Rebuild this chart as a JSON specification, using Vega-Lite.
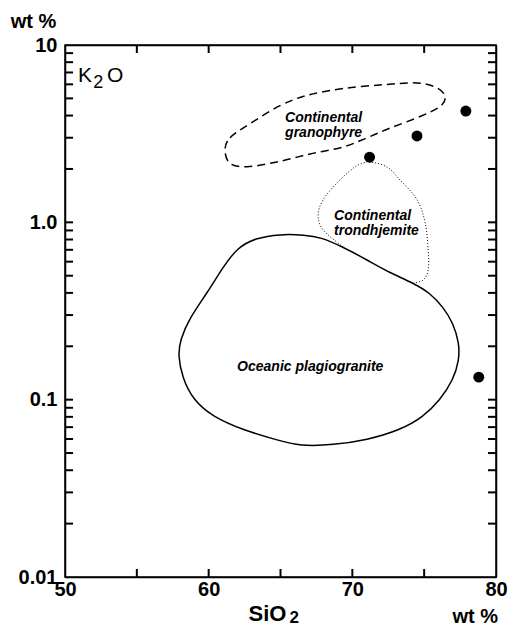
{
  "$schema": "https://vega.github.io/schema/vega-lite/v6.json",
  "width": 431,
  "height": 532,
  "autosize": {"type": "none"},
  "padding": {"left": 65, "top": 45, "right": 18, "bottom": 48},
  "background": "white",
  "config": {
    "view": {"stroke": "black", "strokeWidth": 1.5},
    "font": "Liberation Sans",
    "axis": {
      "grid": false,
      "domainColor": "black",
      "domainWidth": 1.5,
      "ticks": false,
      "tickSize": 0,
      "labelColor": "black",
      "labelFont": "Liberation Sans",
      "labelFontSize": 20,
      "labelFontWeight": "bold",
      "labelFlush": false,
      "labelOverlap": false,
      "labelBound": false,
      "titleColor": "black",
      "titleFont": "Liberation Sans",
      "titleFontSize": 20,
      "titleFontWeight": "bold"
    }
  },
  "datasets": {
    "pts": [
      {"sio2": 71.2, "k2o": 2.33},
      {"sio2": 74.5, "k2o": 3.07},
      {"sio2": 77.9, "k2o": 4.24},
      {"sio2": 78.8, "k2o": 0.134}
    ],
    "xticks": [
      {"v": 55}, {"v": 60}, {"v": 65}, {"v": 70}, {"v": 75}
    ],
    "yticks": [
      {"v": 0.02}, {"v": 0.03}, {"v": 0.04}, {"v": 0.05}, {"v": 0.06}, {"v": 0.07}, {"v": 0.08}, {"v": 0.09},
      {"v": 0.1}, {"v": 0.2}, {"v": 0.3}, {"v": 0.4}, {"v": 0.5}, {"v": 0.6}, {"v": 0.7}, {"v": 0.8}, {"v": 0.9},
      {"v": 1}, {"v": 2}, {"v": 3}, {"v": 4}, {"v": 5}, {"v": 6}, {"v": 7}, {"v": 8}, {"v": 9}
    ],
    "granophyre": [
      {"i": 1, "sio2": 61.14, "k2o": 2.55},
      {"i": 2, "sio2": 61.49, "k2o": 3.0},
      {"i": 3, "sio2": 62.88, "k2o": 3.6},
      {"i": 4, "sio2": 64.97, "k2o": 4.55},
      {"i": 5, "sio2": 66.85, "k2o": 5.2},
      {"i": 6, "sio2": 69.36, "k2o": 5.68},
      {"i": 7, "sio2": 72.15, "k2o": 5.97},
      {"i": 8, "sio2": 74.51, "k2o": 6.11},
      {"i": 9, "sio2": 75.91, "k2o": 5.72},
      {"i": 10, "sio2": 76.46, "k2o": 5.1},
      {"i": 11, "sio2": 76.11, "k2o": 4.5},
      {"i": 12, "sio2": 74.72, "k2o": 3.95},
      {"i": 13, "sio2": 72.63, "k2o": 3.4},
      {"i": 14, "sio2": 71.03, "k2o": 3.0},
      {"i": 15, "sio2": 69.36, "k2o": 2.66},
      {"i": 16, "sio2": 67.06, "k2o": 2.43},
      {"i": 17, "sio2": 64.76, "k2o": 2.19},
      {"i": 18, "sio2": 62.67, "k2o": 2.06},
      {"i": 19, "sio2": 61.49, "k2o": 2.15}
    ],
    "trondhjemite": [
      {"i": 1, "sio2": 69.36, "k2o": 0.726},
      {"i": 2, "sio2": 67.97, "k2o": 0.905},
      {"i": 3, "sio2": 67.62, "k2o": 1.1},
      {"i": 4, "sio2": 67.97, "k2o": 1.34},
      {"i": 5, "sio2": 68.94, "k2o": 1.67},
      {"i": 6, "sio2": 70.06, "k2o": 2.02},
      {"i": 7, "sio2": 70.75, "k2o": 2.16},
      {"i": 8, "sio2": 71.24, "k2o": 2.19},
      {"i": 9, "sio2": 72.42, "k2o": 2.05},
      {"i": 10, "sio2": 73.33, "k2o": 1.73},
      {"i": 11, "sio2": 74.51, "k2o": 1.34},
      {"i": 12, "sio2": 75.07, "k2o": 0.991},
      {"i": 13, "sio2": 75.28, "k2o": 0.698},
      {"i": 14, "sio2": 75.28, "k2o": 0.538},
      {"i": 15, "sio2": 74.93, "k2o": 0.473},
      {"i": 16, "sio2": 74.23, "k2o": 0.455}
    ],
    "oceanic": [
      {"i": 1, "sio2": 63.23, "k2o": 0.815},
      {"i": 2, "sio2": 64.97, "k2o": 0.859},
      {"i": 3, "sio2": 66.71, "k2o": 0.848},
      {"i": 4, "sio2": 67.76, "k2o": 0.826},
      {"i": 5, "sio2": 69.36, "k2o": 0.726},
      {"i": 6, "sio2": 71.03, "k2o": 0.613},
      {"i": 7, "sio2": 72.63, "k2o": 0.518},
      {"i": 8, "sio2": 74.23, "k2o": 0.455},
      {"i": 9, "sio2": 75.42, "k2o": 0.399},
      {"i": 10, "sio2": 76.32, "k2o": 0.333},
      {"i": 11, "sio2": 77.02, "k2o": 0.2704},
      {"i": 12, "sio2": 77.44, "k2o": 0.2086},
      {"i": 13, "sio2": 77.44, "k2o": 0.1673},
      {"i": 14, "sio2": 77.02, "k2o": 0.129},
      {"i": 15, "sio2": 76.11, "k2o": 0.0995},
      {"i": 16, "sio2": 74.93, "k2o": 0.0798},
      {"i": 17, "sio2": 73.33, "k2o": 0.0674},
      {"i": 18, "sio2": 71.03, "k2o": 0.0592},
      {"i": 19, "sio2": 68.66, "k2o": 0.0555},
      {"i": 20, "sio2": 66.36, "k2o": 0.0547},
      {"i": 21, "sio2": 64.76, "k2o": 0.0592},
      {"i": 22, "sio2": 62.4, "k2o": 0.0674},
      {"i": 23, "sio2": 60.31, "k2o": 0.0798},
      {"i": 24, "sio2": 58.91, "k2o": 0.0995},
      {"i": 25, "sio2": 58.15, "k2o": 0.134},
      {"i": 26, "sio2": 57.87, "k2o": 0.1785},
      {"i": 27, "sio2": 58.01, "k2o": 0.217},
      {"i": 28, "sio2": 58.7, "k2o": 0.292},
      {"i": 29, "sio2": 59.89, "k2o": 0.399},
      {"i": 30, "sio2": 61.0, "k2o": 0.56},
      {"i": 31, "sio2": 61.98, "k2o": 0.717}
    ],
    "labels": [
      {"label": "Continental\ngranophyre", "sio2": 65.32, "k2o": 3.87},
      {"label": "Continental\ntrondhjemite", "sio2": 68.73, "k2o": 1.09},
      {"label": "Oceanic  plagiogranite", "sio2": 61.98, "k2o": 0.153}
    ],
    "oxide": [
      {"label": "K", "sio2": 50.9, "k2o": 6.18},
      {"label": "O", "sio2": 52.92, "k2o": 6.18}
    ],
    "oxidesub": [
      {"label": "2", "sio2": 51.97, "k2o": 5.72}
    ]
  },
  "resolve": {"axis": {"x": "independent", "y": "independent"}},
  "layer": [
    {
      "data": {"name": "pts"},
      "mark": {"type": "point", "shape": "circle", "filled": true, "color": "black", "size": 120, "opacity": 1},
      "encoding": {
        "x": {
          "field": "sio2", "type": "quantitative",
          "scale": {"domain": [50, 80], "nice": false, "zero": false},
          "axis": {
            "orient": "bottom",
            "values": [50, 60, 70, 80],
            "labelPadding": 2,
            "title": "SiO",
            "titleFontSize": 22,
            "titleX": 183,
            "titleY": 43,
            "titleAlign": "left",
            "titleBaseline": "alphabetic"
          }
        },
        "y": {
          "field": "k2o", "type": "quantitative",
          "scale": {"type": "log", "domain": [0.01, 10], "nice": false},
          "axis": {
            "orient": "left",
            "values": [0.01, 0.1, 1, 10],
            "labelExpr": "datum.value == 10 ? '10' : datum.value == 1 ? '1.0' : datum.value == 0.1 ? '0.1' : '0.01'",
            "labelPadding": 8,
            "title": "wt %",
            "titleAngle": 0,
            "titleX": -32,
            "titleY": -24,
            "titleAlign": "center",
            "titleBaseline": "middle"
          }
        }
      }
    },
    {
      "data": {"name": "oceanic"},
      "mark": {"type": "line", "interpolate": "basis-closed", "color": "black", "strokeWidth": 1.5},
      "encoding": {
        "x": {
          "field": "sio2", "type": "quantitative",
          "axis": {
            "orient": "top",
            "values": [50, 80],
            "labels": false,
            "title": "wt %",
            "titleX": 387,
            "titleY": 577,
            "titleAlign": "left",
            "titleBaseline": "alphabetic"
          }
        },
        "y": {
          "field": "k2o", "type": "quantitative",
          "axis": {
            "orient": "right",
            "values": [0.01, 10],
            "labels": false,
            "title": "2",
            "titleFontSize": 17,
            "titleAngle": 0,
            "titleX": -207,
            "titleY": 577,
            "titleAlign": "left",
            "titleBaseline": "alphabetic"
          }
        },
        "order": {"field": "i", "type": "quantitative"}
      }
    },
    {
      "data": {"name": "granophyre"},
      "mark": {"type": "line", "interpolate": "cardinal-closed", "color": "black", "strokeWidth": 1.5, "strokeDash": [8, 5]},
      "encoding": {
        "x": {"field": "sio2", "type": "quantitative", "axis": null},
        "y": {"field": "k2o", "type": "quantitative", "axis": null},
        "order": {"field": "i", "type": "quantitative"}
      }
    },
    {
      "data": {"name": "trondhjemite"},
      "mark": {"type": "line", "interpolate": "cardinal", "color": "black", "strokeWidth": 1, "strokeDash": [1, 2]},
      "encoding": {
        "x": {"field": "sio2", "type": "quantitative", "axis": null},
        "y": {"field": "k2o", "type": "quantitative", "axis": null},
        "order": {"field": "i", "type": "quantitative"}
      }
    },
    {
      "data": {"name": "yticks"},
      "mark": {"type": "rule", "color": "black", "strokeWidth": 2},
      "encoding": {
        "x": {"datum": 50, "type": "quantitative", "axis": null},
        "x2": {"datum": 50.56},
        "y": {"field": "v", "type": "quantitative", "axis": null}
      }
    },
    {
      "data": {"name": "yticks"},
      "mark": {"type": "rule", "color": "black", "strokeWidth": 2},
      "encoding": {
        "x": {"datum": 79.44, "type": "quantitative", "axis": null},
        "x2": {"datum": 80},
        "y": {"field": "v", "type": "quantitative", "axis": null}
      }
    },
    {
      "data": {"name": "xticks"},
      "mark": {"type": "rule", "color": "black", "strokeWidth": 2},
      "encoding": {
        "x": {"field": "v", "type": "quantitative", "axis": null},
        "y": {"datum": 0.01, "type": "quantitative", "axis": null},
        "y2": {"datum": 0.0111}
      }
    },
    {
      "data": {"name": "xticks"},
      "mark": {"type": "rule", "color": "black", "strokeWidth": 2},
      "encoding": {
        "x": {"field": "v", "type": "quantitative", "axis": null},
        "y": {"datum": 10, "type": "quantitative", "axis": null},
        "y2": {"datum": 9.01}
      }
    },
    {
      "data": {"name": "labels"},
      "mark": {"type": "text", "align": "left", "baseline": "middle", "fontSize": 14, "fontWeight": "bold", "fontStyle": "italic", "lineBreak": "\n", "lineHeight": 15, "color": "black", "font": "Liberation Sans"},
      "encoding": {
        "x": {"field": "sio2", "type": "quantitative", "axis": null},
        "y": {"field": "k2o", "type": "quantitative", "axis": null},
        "text": {"field": "label"}
      }
    },
    {
      "data": {"name": "oxide"},
      "mark": {"type": "text", "align": "left", "baseline": "alphabetic", "fontSize": 21, "color": "black", "font": "Liberation Sans"},
      "encoding": {
        "x": {"field": "sio2", "type": "quantitative", "axis": null},
        "y": {"field": "k2o", "type": "quantitative", "axis": null},
        "text": {"field": "label"}
      }
    },
    {
      "data": {"name": "oxidesub"},
      "mark": {"type": "text", "align": "left", "baseline": "alphabetic", "fontSize": 18, "color": "black", "font": "Liberation Sans"},
      "encoding": {
        "x": {"field": "sio2", "type": "quantitative", "axis": null},
        "y": {"field": "k2o", "type": "quantitative", "axis": null},
        "text": {"field": "label"}
      }
    }
  ]
}
